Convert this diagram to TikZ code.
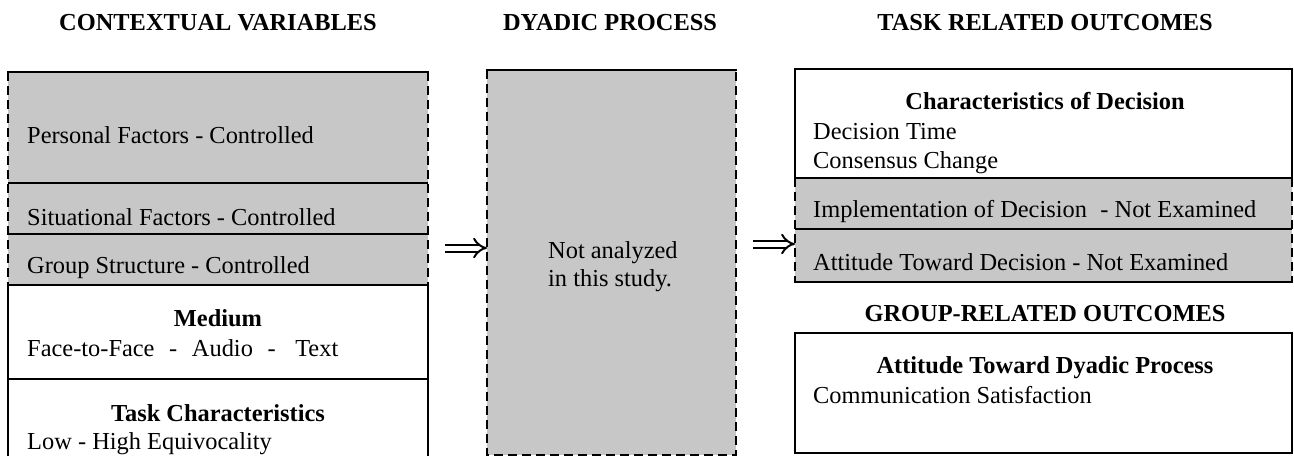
\documentclass[tikz,border=0pt]{standalone}
\usepackage{fontspec}
\setmainfont{Liberation Serif}
\usetikzlibrary{arrows.meta}
\begin{document}
\begin{tikzpicture}[x=1pt,y=-1pt,
  shadefill/.style={fill=black!22},
  rule/.style={line width=2.4pt},
  dashrule/.style={line width=2pt, dash pattern=on 9pt off 5pt},
  txt/.style={anchor=base west, inner sep=0pt, font=\fontsize{24.4}{29}\selectfont},
  head/.style={anchor=base, inner sep=0pt, font=\fontsize{24.4}{29}\selectfont\bfseries},
  implies/.style={line width=2pt, double distance=5pt, -{Implies}}]
\useasboundingbox (0,0) rectangle (1294,456);

% column titles
\node[head] (t1) at (218,30) {CONTEXTUAL VARIABLES};
\node[head] (t2) at (610,30) {DYADIC PROCESS};
\node[head] (t3) at (1045,30) {TASK RELATED OUTCOMES};

% ---- left box ----
\fill[shadefill] (8,72) rectangle (428,285);
\draw[dashrule] (8,72) -- (8,285);
\draw[dashrule] (428,72) -- (428,285);
\draw[rule] (8,456) -- (8,285);
\draw[rule] (428,456) -- (428,285);
\draw[rule] (6.8,72) -- (429.2,72);
\draw[rule] (8,183) -- (428,183);
\draw[rule] (8,234) -- (428,234);
\draw[rule] (8,285) -- (428,285);
\draw[rule] (8,379) -- (428,379);

\node[txt] (pf) at (27,143) {Personal Factors - Controlled};
\node[txt] (sf) at (27,225) {Situational Factors - Controlled};
\node[txt] (gs) at (27,273) {Group Structure - Controlled};
\node[head] (md) at (218,326) {Medium};
\node[txt] (ft) at (27,356) {Face-to-Face\hspace{0.6em}-\hspace{0.6em}Audio\hspace{0.6em}-\hspace{0.8em}Text};
\node[head] (tc) at (218,421) {Task Characteristics};
\node[txt] (lh) at (27,449) {Low - High Equivocality};

% ---- middle box ----
\node[shadefill, draw=none, inner sep=0pt, minimum width=249pt, minimum height=385pt, anchor=north west] (dyad) at (487,70) {};
\draw[rule] (485.8,70) -- (737.2,70);
\draw[dashrule] (487,70) -- (487,455) -- (736,455) -- (736,70);
\node[txt] (na1) at (548,258) {Not analyzed};
\node[txt] (na2) at (548,286) {in this study.};

% ---- right upper box ----
\fill[shadefill] (795,178) rectangle (1292,282);
\draw[rule] (795,178) -- (795,69) -- (1292,69) -- (1292,178);
\draw[dashrule] (795,178) -- (795,282);
\draw[dashrule] (1292,178) -- (1292,282);
\draw[rule] (795,178) -- (1292,178);
\draw[rule] (795,229) -- (1292,229);
\draw[rule] (793.8,282) -- (1293.2,282);
\coordinate (task) at (795,244);

\node[head] (cd) at (1045,109) {Characteristics of Decision};
\node[txt] (dt) at (813,139) {Decision Time};
\node[txt] (cc) at (813,168) {Consensus Change};
\node[txt] (im) at (813,217) {Implementation of Decision\hspace{0.55em}- Not Examined};
\node[txt] (at) at (813,270) {Attitude Toward Decision - Not Examined};

% ---- right lower box ----
\node[head] (t4) at (1045,321) {GROUP-RELATED OUTCOMES};
\draw[rule] (795,333) rectangle (1292,453);
\node[head] (ad) at (1045,373) {Attitude Toward Dyadic Process};
\node[txt] (cs) at (813,403) {Communication Satisfaction};

% ---- arrows ----
\coordinate (a1) at (445,248);
\coordinate (a2) at (753,244);
\draw[implies] (a1) -- (a1 -| dyad.west);
\draw[implies] (a2) -- (task);
\end{tikzpicture}
\end{document}
